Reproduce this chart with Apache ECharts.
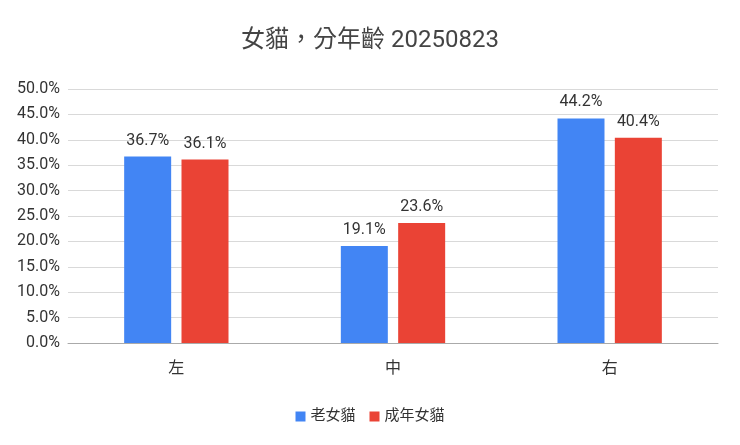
<!DOCTYPE html>
<html>
<head>
<meta charset="utf-8">
<script src="https://cdn.jsdelivr.net/npm/echarts@6/dist/echarts.min.js"></script>
<style>html,body{margin:0;padding:0;background:#fff}#main{width:740px;height:445px}</style>
</head>
<body>
<div id="main"></div>
<script>
const categories = ["左", "中", "右"];
const oldFemale = [36.7, 19.1, 44.2];
const adultFemale = [36.1, 23.6, 40.4];
const seriesNames = ["老女貓", "成年女貓"];

let chart = echarts.init(document.getElementById("main"));
const font = "Roboto, 'Noto Sans CJK TC', sans-serif";
let labelStyle = {
    show: true,
    position: "top",
    distance: 8,
    color: "#333",
    fontSize: 16,
    fontFamily: font,
    formatter: (p) => p.value.toFixed(1) + "%",
};
chart.setOption({
    animation: false,
    title: {
        text: "女貓，分年齡 20250823",
        left: "center",
        top: 24,
        textStyle: { color: "#444", fontSize: 24, fontWeight: "normal", fontFamily: font },
    },
    legend: {
        bottom: 16,
        itemWidth: 10,
        itemHeight: 10,
        icon: "rect",
        itemGap: 14,
        textStyle: { color: "#333", fontSize: 15, fontFamily: font },
    },
    grid: { left: 68, right: 22, top: 89, bottom: 102 },
    xAxis: {
        type: "category",
        data: categories,
        axisTick: { show: false },
        axisLine: { lineStyle: { color: "#aaa" } },
        axisLabel: { color: "#333", fontSize: 16, margin: 18, fontFamily: font },
    },
    yAxis: {
        type: "value",
        min: 0,
        max: 50,
        interval: 5,
        axisLabel: {
            color: "#333",
            fontSize: 16,
            fontFamily: font,
            formatter: (v) => v.toFixed(1) + "%",
        },
        splitLine: { lineStyle: { color: "#d9d9d9" } },
    },
    series: [
        {
            name: seriesNames[0],
            type: "bar",
            data: oldFemale,
            barWidth: 47,
            barGap: "22%",
            itemStyle: { color: "#4285F4" },
            label: labelStyle,
        },
        {
            name: seriesNames[1],
            type: "bar",
            data: adultFemale,
            barWidth: 47,
            itemStyle: { color: "#EA4335" },
            label: labelStyle,
        },
    ],
});
</script>
</body>
</html>
